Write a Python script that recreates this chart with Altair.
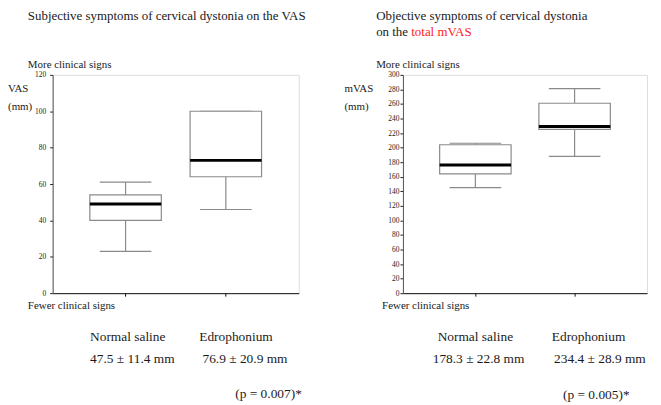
import altair as alt
import pandas as pd

groups = ["Normal saline", "Edrophonium"]

# VAS (mm) box plot statistics
vas_low = [23, 46]
vas_q1 = [40, 64]
vas_median = [49, 73]
vas_q3 = [54, 100]
vas_high = [61, 100]

# total mVAS (mm) box plot statistics
mvas_low = [145, 188]
mvas_q1 = [164, 225]
mvas_median = [176, 229]
mvas_q3 = [204, 261]
mvas_high = [206, 281]

vas_summary = ["47.5 \u00b1 11.4 mm", "76.9 \u00b1 20.9 mm"]
mvas_summary = ["178.3 \u00b1 22.8 mm", "234.4 \u00b1 28.9 mm"]
vas_p = "(p = 0.007)*"
mvas_p = "(p = 0.005)*"

SERIF = "Liberation Serif"
GRAY = "#8a8a8a"
INK = "#1a1a1a"


def label(text, x, y, size=13.5, color=INK):
    return alt.Chart(pd.DataFrame({"t": [text]})).mark_text(
        align="left", baseline="alphabetic", font=SERIF, fontSize=size, color=color
    ).encode(x=alt.value(x), y=alt.value(y), text="t:N")


def panel(low, q1, med, q3, high, ymax, width, pi, po, label_pad, texts):
    df = pd.DataFrame({"group": groups, "low": low, "q1": q1, "median": med,
                       "q3": q3, "high": high})
    xenc = alt.X("group:N", sort=groups,
                 scale=alt.Scale(domain=groups, paddingInner=pi, paddingOuter=po),
                 axis=alt.Axis(title=None, labels=False, ticks=True, tickSize=3,
                               tickColor="#111", domainColor="#111", grid=False))
    yscale = alt.Scale(domain=[0, ymax], nice=False, zero=True)
    yaxis = alt.Axis(title=None, values=list(range(0, ymax + 1, 20)), tickSize=3,
                     tickColor="#222", domainColor="#555", grid=False,
                     labelFont=SERIF, labelFontSize=7.5, labelColor="#222",
                     labelPadding=label_pad)
    base = alt.Chart(df)
    whisk_lo = base.mark_rule(color=GRAY, strokeWidth=1.2, opacity=1).encode(
        x=xenc, y=alt.Y("low:Q", scale=yscale, axis=yaxis), y2="q1:Q")
    whisk_hi = base.mark_rule(color=GRAY, strokeWidth=1.2, opacity=1).encode(
        x=xenc, y=alt.Y("q3:Q", scale=yscale, axis=yaxis), y2="high:Q")
    cap_lo = base.mark_tick(size=52, thickness=1.2, color=GRAY, opacity=1).encode(
        x=xenc, y=alt.Y("low:Q", scale=yscale, axis=yaxis))
    cap_hi = base.mark_tick(size=52, thickness=1.2, color=GRAY, opacity=1).encode(
        x=xenc, y=alt.Y("high:Q", scale=yscale, axis=yaxis))
    box = base.mark_bar(fill="white", stroke=GRAY, strokeWidth=1.2, opacity=1).encode(
        x=xenc, y=alt.Y("q1:Q", scale=yscale, axis=yaxis), y2="q3:Q")
    median = base.mark_tick(size=72, thickness=3, color="#000", opacity=1).encode(
        x=xenc, y=alt.Y("median:Q", scale=yscale, axis=yaxis))
    layers = [whisk_lo, whisk_hi, cap_lo, cap_hi, box, median] + texts
    return alt.layer(*layers).properties(width=width, height=220)


left_texts = [
    label("Subjective symptoms of cervical dystonia on the VAS", -25, -55.5, 13),
    label("More clinical signs", -25, -6.5, 11),
    label("VAS", -45, 17.7, 11),
    label("(mm)", -45, 35.5, 11),
    label("Fewer clinical signs", -25, 236.3, 11),
    label(groups[0], 37.7, 268),
    label(groups[1], 147.7, 268),
    label(vas_summary[0], 37.7, 290.3),
    label(vas_summary[1], 151, 290.3),
    label(vas_p, 184, 325.3, 13.5),
]

right_texts = [
    label("Objective symptoms of cervical dystonia", -27, -55.5, 13),
    label("on the", -27, -39.5, 13),
    label("total mVAS", 8.4, -39.5, 13, "#ff1a1a"),
    label("More clinical signs", -27, -6.5, 11),
    label("mVAS", -59, 17.7, 11),
    label("(mm)", -59, 35.5, 11),
    label("Fewer clinical signs", -21, 236.3, 11),
    label(groups[0], 35, 268),
    label(groups[1], 150, 268),
    label(mvas_summary[0], 30, 290.3),
    label(mvas_summary[1], 152.3, 290.3),
    label(mvas_p, 161.3, 326.3, 13.5),
]

left = panel(vas_low, vas_q1, vas_median, vas_q3, vas_high, 120, 248,
             0.287, 0.371, 4, left_texts)
right = panel(mvas_low, mvas_q1, mvas_median, mvas_q3, mvas_high, 300, 246,
              0.28, 0.37, 1, right_texts)

chart = alt.hconcat(left, right, spacing=105, bounds="flush").properties(
    autosize=alt.AutoSizeParams(type="none"),
    padding={"left": 45, "top": 65, "right": 605, "bottom": 330},
).configure_view(stroke="#999", strokeWidth=1).configure(background="white")

chart.save("out.html", embed_options={"renderer": "svg", "actions": False})
